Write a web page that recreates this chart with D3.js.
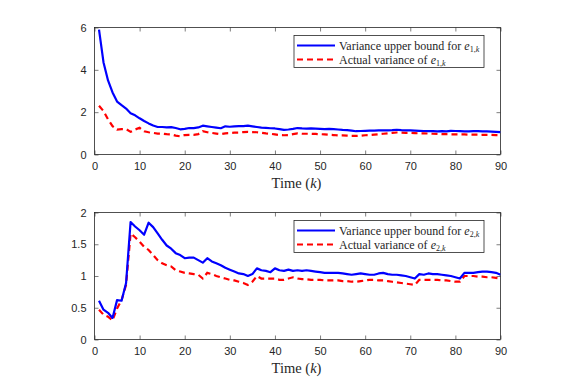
<!DOCTYPE html>
<html>
<head>
<meta charset="utf-8">
<script src="https://cdn.jsdelivr.net/npm/d3@7"></script>
<style>
  body { margin: 0; background: #fff; }
  svg { display: block; }
  .tick text { font-family: "Liberation Sans", Arial, sans-serif; font-size: 11px; fill: #262626; }
</style>
</head>
<body>
<svg id="chart" width="564" height="380"></svg>
<script>
// time steps k = 1..90
const steps = d3.range(1, 91);

// top panel: e1
const bound1 = [5.9, 4.35, 3.5, 2.93, 2.5, 2.33, 2.17, 1.95, 1.85, 1.71, 1.58, 1.47, 1.37, 1.3, 1.3, 1.28, 1.29, 1.25, 1.19, 1.21,
  1.25, 1.25, 1.28, 1.36, 1.33, 1.3, 1.27, 1.24, 1.33, 1.31, 1.33, 1.34, 1.34, 1.36, 1.33, 1.3, 1.27, 1.26, 1.24, 1.23,
  1.2, 1.16, 1.18, 1.21, 1.25, 1.23, 1.22, 1.23, 1.22, 1.21, 1.2, 1.21, 1.2, 1.18, 1.16, 1.15, 1.13, 1.1, 1.11, 1.12,
  1.13, 1.13, 1.14, 1.14, 1.14, 1.15, 1.17, 1.15, 1.14, 1.14, 1.13, 1.12, 1.11, 1.1, 1.1, 1.09, 1.1, 1.09, 1.12, 1.11,
  1.1, 1.09, 1.09, 1.1, 1.1, 1.09, 1.09, 1.08, 1.07, 1.06];
const actual1 = [2.3, 2.05, 1.66, 1.34, 1.18, 1.2, 1.2, 1.07, 1.18, 1.26, 1.1, 1.05, 1.02, 0.99, 0.99, 0.96, 0.95, 0.89, 0.86, 0.92,
  0.93, 0.93, 0.96, 1.1, 1.05, 1.02, 0.99, 0.96, 1.0, 1.01, 1.03, 1.03, 1.06, 1.07, 1.06, 1.05, 1.03, 1.0, 0.98, 0.95,
  0.92, 0.91, 0.92, 0.96, 1.0, 0.98, 0.98, 0.98, 0.97, 0.96, 0.95, 0.93, 0.92, 0.9, 0.9, 0.89, 0.88, 0.88, 0.89, 0.91,
  0.92, 0.94, 0.96, 0.98, 1.0, 1.02, 1.04, 1.03, 1.02, 1.02, 1.01, 1.0, 1.0, 0.99, 0.98, 0.97, 0.96, 0.96, 0.95, 0.95,
  0.95, 0.95, 0.94, 0.94, 0.94, 0.93, 0.93, 0.93, 0.92, 0.92];

// bottom panel: e2
const bound2 = [0.61, 0.47, 0.42, 0.34, 0.62, 0.61, 0.89, 1.85, 1.78, 1.72, 1.65, 1.84, 1.77, 1.67, 1.57, 1.48, 1.43, 1.36, 1.33, 1.28,
  1.29, 1.29, 1.25, 1.21, 1.28, 1.23, 1.2, 1.17, 1.13, 1.1, 1.07, 1.04, 1.03, 1.0, 1.03, 1.12, 1.09, 1.08, 1.06, 1.12,
  1.09, 1.08, 1.1, 1.08, 1.09, 1.08, 1.09, 1.08, 1.07, 1.06, 1.05, 1.05, 1.05, 1.05, 1.04, 1.03, 1.02, 1.03, 1.04, 1.03,
  1.02, 1.02, 1.04, 1.05, 1.03, 1.02, 1.02, 1.01, 1.0, 0.98, 0.96, 1.03, 1.02, 1.04, 1.03, 1.03, 1.02, 1.01, 1.0, 0.98,
  0.96, 1.05, 1.05, 1.05, 1.06, 1.07, 1.07, 1.06, 1.05, 1.02];
const actual2 = [0.47, 0.39, 0.36, 0.3, 0.49, 0.62, 0.86, 1.67, 1.61, 1.54, 1.46, 1.41, 1.33, 1.25, 1.2, 1.17, 1.15, 1.09, 1.07, 1.05,
  1.04, 1.03, 1.02, 0.96, 1.05, 1.03, 1.0, 0.98, 0.96, 0.94, 0.93, 0.91, 0.89, 0.86, 0.91, 1.0, 0.96, 0.96, 0.96, 0.96,
  0.94, 0.94, 0.96, 0.98, 0.96, 0.95, 0.95, 0.94, 0.94, 0.94, 0.93, 0.93, 0.93, 0.93, 0.92, 0.92, 0.91, 0.91, 0.92, 0.93,
  0.94, 0.94, 0.93, 0.93, 0.92, 0.91, 0.9, 0.89, 0.88, 0.87, 0.86, 0.94, 0.94, 0.94, 0.94, 0.94, 0.93, 0.93, 0.92, 0.91,
  0.91, 1.0, 1.0, 1.0, 0.99, 0.99, 0.98, 0.98, 0.97, 0.96];

const xTicks = d3.range(0, 100, 10);
const yTicks1 = [0, 2, 4, 6];
const yTicks2 = [0, 0.5, 1, 1.5, 2];

const panels = [
  { top: 27.5, yMax: 6, yTicks: yTicks1, bound: bound1, actual: actual1, sub: "1" },
  { top: 212.5, yMax: 2, yTicks: yTicks2, bound: bound2, actual: actual2, sub: "2" }
];

const svg = d3.select("#chart");
const left = 94.5, right = 500.5, plotH = 127;
const serif = "'Liberation Serif', 'DejaVu Serif', serif";
const fmt = d3.format("~g");

panels.forEach(p => {
  const x = d3.scaleLinear().domain([0, 90]).range([left, right]);
  const y = d3.scaleLinear().domain([0, p.yMax]).range([p.top + plotH, p.top]);
  const g = svg.append("g");

  const tickLen = 4;
  g.append("g").attr("transform", `translate(0,${p.top + plotH})`)
    .call(d3.axisBottom(x).tickValues(xTicks).tickSizeInner(-tickLen).tickSizeOuter(0).tickPadding(8).tickFormat(fmt));
  g.append("g").attr("transform", `translate(0,${p.top})`)
    .call(d3.axisTop(x).tickValues(xTicks).tickSizeInner(-tickLen).tickSizeOuter(0).tickFormat(""));
  g.append("g").attr("transform", `translate(${left},0)`)
    .call(d3.axisLeft(y).tickValues(p.yTicks).tickSizeInner(-tickLen).tickSizeOuter(0).tickPadding(8).tickFormat(fmt));
  g.append("g").attr("transform", `translate(${right},0)`)
    .call(d3.axisRight(y).tickValues(p.yTicks).tickSizeInner(-tickLen).tickSizeOuter(0).tickFormat(""));
  g.selectAll(".domain").remove();
  g.selectAll(".tick line").attr("stroke", "#262626").attr("stroke-width", 0.6);

  g.append("rect").attr("x", left).attr("y", p.top).attr("width", right - left).attr("height", plotH)
    .attr("fill", "none").attr("stroke", "#262626").attr("stroke-width", 0.8);

  const clipId = "clip" + p.sub;
  g.append("clipPath").attr("id", clipId).append("rect")
    .attr("x", left).attr("y", p.top - 2).attr("width", right - left).attr("height", plotH + 4);

  const line = d3.line().x((d, i) => x(steps[i])).y(d => y(d));
  g.append("path").datum(p.actual).attr("clip-path", `url(#${clipId})`)
    .attr("d", line).attr("fill", "none").attr("stroke", "#ff0000")
    .attr("stroke-width", 2.2).attr("stroke-dasharray", "6,4");
  g.append("path").datum(p.bound).attr("clip-path", `url(#${clipId})`)
    .attr("d", line).attr("fill", "none").attr("stroke", "#0000ff")
    .attr("stroke-width", 2.2).attr("stroke-linejoin", "round");

  // x label
  const lab = g.append("text").attr("x", (left + right) / 2 - 1).attr("y", p.top + plotH + 33)
    .attr("text-anchor", "middle").attr("font-family", serif).attr("font-size", 14.5).attr("fill", "#262626");
  lab.append("tspan").text("Time (");
  lab.append("tspan").attr("font-style", "italic").text("k");
  lab.append("tspan").text(")");

  // legend
  const lx = 294, ly = p.top + 8, lw = 190, lh = 32;
  const lg = g.append("g");
  lg.append("rect").attr("x", lx).attr("y", ly).attr("width", lw).attr("height", lh)
    .attr("fill", "#fff").attr("stroke", "#262626").attr("stroke-width", 0.8);
  const items = [
    { text: "Variance upper bound for ", color: "#0000ff", dash: null },
    { text: "Actual variance of ", color: "#ff0000", dash: "6,4" }
  ];
  items.forEach((it, i) => {
    const yy = ly + 10 + i * 14;
    lg.append("line").attr("x1", lx + 3).attr("x2", lx + 41).attr("y1", yy).attr("y2", yy)
      .attr("stroke", it.color).attr("stroke-width", 2.2).attr("stroke-dasharray", it.dash);
    const t = lg.append("text").attr("x", lx + 45).attr("y", yy + 4)
      .attr("font-family", serif).attr("font-size", 12).attr("fill", "#262626");
    t.append("tspan").text(it.text);
    t.append("tspan").attr("font-style", "italic").text("e");
    t.append("tspan").attr("font-size", 8).attr("dy", 2.5).text(p.sub + ",");
    t.append("tspan").attr("font-size", 8).attr("font-style", "italic").text("k");
  });
});
</script>
</body>
</html>
